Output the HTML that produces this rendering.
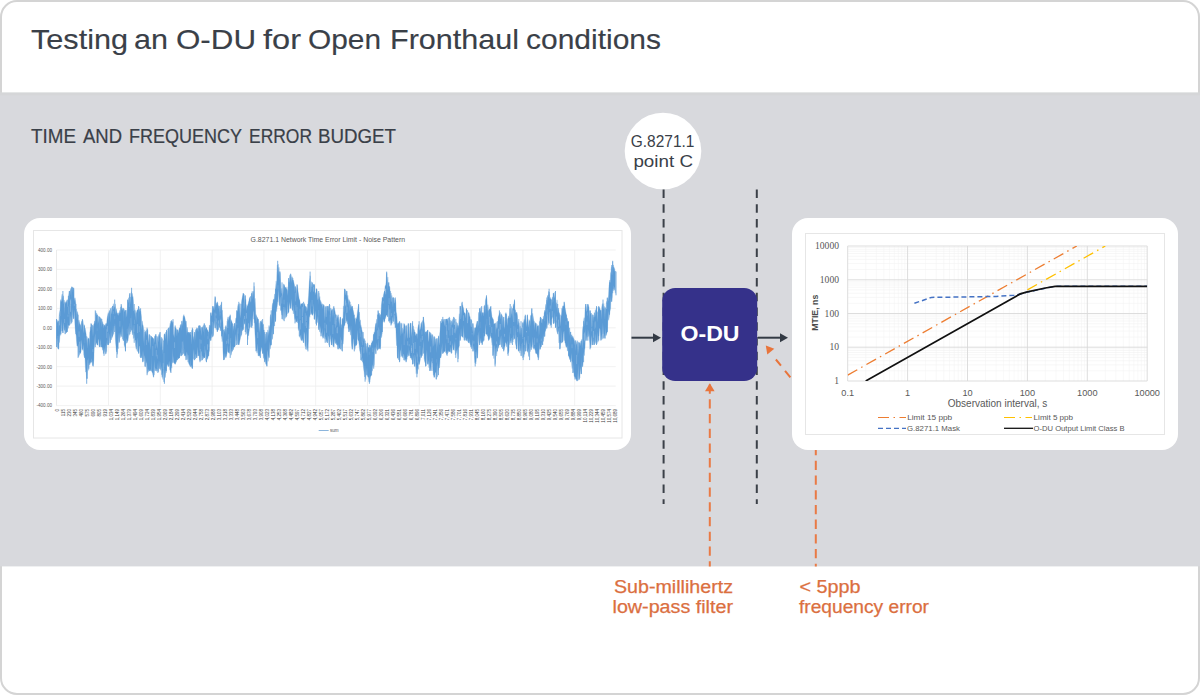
<!DOCTYPE html>
<html><head><meta charset="utf-8"><title>Testing an O-DU for Open Fronthaul conditions</title>
<style>
html,body{margin:0;padding:0;background:#fff;}
body{width:1200px;height:695px;overflow:hidden;position:relative;font-family:"Liberation Sans",sans-serif;}
svg{position:absolute;left:0;top:0;display:block;}
</style></head>
<body>
<svg width="1200" height="695" viewBox="0 0 1200 695" font-family="Liberation Sans, sans-serif">
  <!-- outer frame -->
  <rect x="1" y="1" width="1198" height="693" rx="16" ry="16" fill="#fff" stroke="#d4d4d4" stroke-width="2"/>
  <!-- gray band -->
  <rect x="0" y="92.6" width="1200" height="473.8" fill="#d8d9dd"/>
  <rect x="0" y="92.6" width="1200" height="2.6" fill="#d5d6d8"/>

  <!-- title -->
<text x="30.99" y="49.0" font-size="28.0" fill="#3a4048" stroke="#3a4048" stroke-width="0.15" textLength="97.01" lengthAdjust="spacingAndGlyphs">Testing</text>
<text x="134.00" y="49.0" font-size="28.0" fill="#3a4048" stroke="#3a4048" stroke-width="0.15" textLength="34.00" lengthAdjust="spacingAndGlyphs">an</text>
<text x="175.98" y="49.0" font-size="28.0" fill="#3a4048" stroke="#3a4048" stroke-width="0.15" textLength="80.05" lengthAdjust="spacingAndGlyphs">O-DU</text>
<text x="262.98" y="49.0" font-size="28.0" fill="#3a4048" stroke="#3a4048" stroke-width="0.15" textLength="38.02" lengthAdjust="spacingAndGlyphs">for</text>
<text x="307.98" y="49.0" font-size="28.0" fill="#3a4048" stroke="#3a4048" stroke-width="0.15" textLength="73.02" lengthAdjust="spacingAndGlyphs">Open</text>
<text x="389.97" y="49.0" font-size="28.0" fill="#3a4048" stroke="#3a4048" stroke-width="0.15" textLength="129.05" lengthAdjust="spacingAndGlyphs">Fronthaul</text>
<text x="525.99" y="49.0" font-size="28.0" fill="#3a4048" stroke="#3a4048" stroke-width="0.15" textLength="135.02" lengthAdjust="spacingAndGlyphs">conditions</text>
<text x="31.01" y="143.3" font-size="20.0" fill="#3a4048" stroke="#3a4048" stroke-width="0.2" textLength="45.00" lengthAdjust="spacingAndGlyphs">TIME</text>
<text x="82.94" y="143.3" font-size="20.0" fill="#3a4048" stroke="#3a4048" stroke-width="0.2" textLength="39.06" lengthAdjust="spacingAndGlyphs">AND</text>
<text x="128.99" y="143.3" font-size="20.0" fill="#3a4048" stroke="#3a4048" stroke-width="0.2" textLength="113.02" lengthAdjust="spacingAndGlyphs">FREQUENCY</text>
<text x="249.01" y="143.3" font-size="20.0" fill="#3a4048" stroke="#3a4048" stroke-width="0.2" textLength="62.99" lengthAdjust="spacingAndGlyphs">ERROR</text>
<text x="317.98" y="143.3" font-size="20.0" fill="#3a4048" stroke="#3a4048" stroke-width="0.2" textLength="78.04" lengthAdjust="spacingAndGlyphs">BUDGET</text>


  <!-- left panel -->
  <rect x="24" y="218" width="607" height="232" rx="16" ry="16" fill="#fff"/>
  <rect x="33.5" y="230.5" width="588.5" height="207.5" fill="#fff" stroke="#e6e6e6" stroke-width="1"/>
  <text x="327.8" y="241.6" font-size="6.6" fill="#595959" text-anchor="middle" textLength="154.5" lengthAdjust="spacingAndGlyphs">G.8271.1 Network Time Error Limit - Noise Pattern</text>
  <g stroke="#eeeeee" stroke-width="0.8">
<line x1="56.5" y1="250.0" x2="615.7" y2="250.0"/>
<line x1="56.5" y1="269.4" x2="615.7" y2="269.4"/>
<line x1="56.5" y1="288.9" x2="615.7" y2="288.9"/>
<line x1="56.5" y1="308.4" x2="615.7" y2="308.4"/>
<line x1="56.5" y1="327.8" x2="615.7" y2="327.8"/>
<line x1="56.5" y1="347.2" x2="615.7" y2="347.2"/>
<line x1="56.5" y1="366.7" x2="615.7" y2="366.7"/>
<line x1="56.5" y1="386.1" x2="615.7" y2="386.1"/>
<line x1="56.5" y1="405.6" x2="615.7" y2="405.6"/>
<line x1="108.5" y1="250" x2="108.5" y2="405.6"/>
<line x1="160.3" y1="250" x2="160.3" y2="405.6"/>
<line x1="212.1" y1="250" x2="212.1" y2="405.6"/>
<line x1="263.9" y1="250" x2="263.9" y2="405.6"/>
<line x1="315.7" y1="250" x2="315.7" y2="405.6"/>
<line x1="367.5" y1="250" x2="367.5" y2="405.6"/>
<line x1="419.3" y1="250" x2="419.3" y2="405.6"/>
<line x1="471.1" y1="250" x2="471.1" y2="405.6"/>
<line x1="522.9" y1="250" x2="522.9" y2="405.6"/>
<line x1="574.7" y1="250" x2="574.7" y2="405.6"/>
  </g>
  <line x1="56.5" y1="250" x2="56.5" y2="405.6" stroke="#e6e6e6" stroke-width="0.8"/>
  <g font-size="4.6" fill="#595959">
<text x="52" y="251.8" text-anchor="end">400.00</text>
<text x="52" y="271.2" text-anchor="end">300.00</text>
<text x="52" y="290.7" text-anchor="end">200.00</text>
<text x="52" y="310.2" text-anchor="end">100.00</text>
<text x="52" y="329.6" text-anchor="end">0.00</text>
<text x="52" y="349.1" text-anchor="end">-100.00</text>
<text x="52" y="368.5" text-anchor="end">-200.00</text>
<text x="52" y="387.9" text-anchor="end">-300.00</text>
<text x="52" y="407.4" text-anchor="end">-400.00</text>
  </g>
  <polygon points="56.6,319.2 57.0,321.2 57.4,322.7 57.8,320.4 58.2,320.8 58.6,331.3 59.0,317.6 59.4,313.6 59.8,311.2 60.2,309.1 60.6,302.3 61.0,300.9 61.4,302.0 61.8,296.0 62.2,294.1 62.6,301.4 63.0,296.9 63.4,295.7 63.8,304.6 64.2,300.0 64.6,314.0 65.0,302.8 65.4,304.0 65.8,302.8 66.2,301.3 66.6,303.3 67.0,300.1 67.4,306.7 67.8,307.2 68.2,295.9 68.6,296.1 69.0,293.0 69.4,291.1 69.8,301.6 70.2,290.7 70.6,289.5 71.0,288.1 71.4,288.5 71.8,298.7 72.2,287.2 72.6,287.2 73.0,287.5 73.4,288.2 73.8,289.7 74.2,301.6 74.6,298.9 75.0,297.8 75.4,300.2 75.8,303.3 76.2,319.7 76.6,309.0 77.0,314.9 77.4,311.5 77.8,313.5 78.2,326.9 78.6,321.1 79.0,319.9 79.4,321.9 79.8,323.5 80.2,325.5 80.6,324.4 81.0,330.9 81.4,323.3 81.8,320.8 82.2,325.0 82.6,319.8 83.0,320.9 83.4,325.2 83.8,333.6 84.2,324.6 84.6,333.6 85.0,328.0 85.4,329.9 85.8,331.9 86.2,334.4 86.6,344.0 87.0,339.1 87.4,348.7 87.8,337.6 88.2,338.3 88.6,338.5 89.0,339.2 89.4,346.8 89.8,332.4 90.2,330.4 90.6,326.8 91.0,330.7 91.4,323.8 91.8,324.2 92.2,325.8 92.6,325.2 93.0,336.5 93.4,331.3 93.8,324.0 94.2,323.4 94.6,321.2 95.0,320.7 95.4,323.7 95.8,311.4 96.2,315.9 96.6,313.0 97.0,314.7 97.4,321.2 97.8,324.8 98.2,321.4 98.6,315.9 99.0,316.9 99.4,316.7 99.8,330.5 100.2,317.5 100.6,318.1 101.0,318.9 101.4,318.7 101.8,327.4 102.2,323.6 102.6,321.5 103.0,324.3 103.4,323.9 103.8,328.2 104.2,325.5 104.6,324.9 105.0,324.5 105.4,324.6 105.8,327.2 106.2,323.4 106.6,324.6 107.0,319.6 107.4,317.0 107.8,315.4 108.2,313.9 108.6,323.1 109.0,311.2 109.4,310.3 109.8,312.2 110.2,322.5 110.6,319.6 111.0,312.9 111.4,307.3 111.8,314.4 112.2,311.0 112.6,306.1 113.0,306.3 113.4,303.7 113.8,309.8 114.2,306.6 114.6,307.6 115.0,307.9 115.4,303.9 115.8,314.5 116.2,308.6 116.6,310.8 117.0,313.8 117.4,314.9 117.8,313.0 118.2,314.4 118.6,315.9 119.0,312.8 119.4,314.6 119.8,310.3 120.2,313.6 120.6,306.8 121.0,312.2 121.4,305.4 121.8,307.6 122.2,310.4 122.6,308.7 123.0,307.8 123.4,322.0 123.8,308.7 124.2,309.6 124.6,312.3 125.0,309.9 125.4,310.4 125.8,318.6 126.2,316.0 126.6,309.9 127.0,316.7 127.4,309.1 127.8,299.8 128.2,303.1 128.6,297.7 129.0,303.5 129.4,295.6 129.8,293.4 130.2,304.6 130.6,297.0 131.0,297.3 131.4,291.7 131.8,298.2 132.2,293.3 132.6,297.5 133.0,296.6 133.4,301.1 133.8,311.2 134.2,310.2 134.6,314.6 135.0,309.4 135.4,320.5 135.8,310.5 136.2,323.2 136.6,312.7 137.0,310.6 137.4,309.7 137.8,310.0 138.2,308.6 138.6,319.5 139.0,306.7 139.4,312.1 139.8,309.0 140.2,311.1 140.6,311.0 141.0,313.3 141.4,317.0 141.8,329.8 142.2,320.8 142.6,323.9 143.0,326.1 143.4,328.9 143.8,343.4 144.2,329.7 144.6,346.2 145.0,334.4 145.4,331.2 145.8,331.6 146.2,329.7 146.6,336.0 147.0,331.3 147.4,329.0 147.8,330.1 148.2,343.3 148.6,340.2 149.0,334.8 149.4,335.4 149.8,341.2 150.2,349.8 150.6,335.5 151.0,336.0 151.4,337.0 151.8,338.8 152.2,337.1 152.6,337.5 153.0,338.1 153.4,339.3 153.8,345.1 154.2,341.2 154.6,336.5 155.0,335.7 155.4,336.4 155.8,334.4 156.2,347.3 156.6,335.8 157.0,347.0 157.4,349.1 157.8,337.3 158.2,342.6 158.6,335.8 159.0,334.2 159.4,336.5 159.8,332.6 160.2,337.2 160.6,342.5 161.0,347.8 161.4,337.5 161.8,337.2 162.2,351.2 162.6,349.8 163.0,354.4 163.4,340.4 163.8,341.8 164.2,335.7 164.6,333.9 165.0,333.5 165.4,339.8 165.8,332.0 166.2,336.9 166.6,332.1 167.0,331.1 167.4,345.4 167.8,328.7 168.2,330.3 168.6,327.9 169.0,341.9 169.4,327.9 169.8,326.3 170.2,323.3 170.6,326.8 171.0,322.6 171.4,320.7 171.8,320.3 172.2,321.1 172.6,323.5 173.0,321.8 173.4,334.1 173.8,335.6 174.2,337.7 174.6,333.0 175.0,326.9 175.4,328.4 175.8,327.8 176.2,328.7 176.6,329.7 177.0,336.4 177.4,330.0 177.8,329.4 178.2,330.4 178.6,333.6 179.0,329.3 179.4,328.5 179.8,330.7 180.2,325.6 180.6,324.4 181.0,326.3 181.4,324.3 181.8,331.0 182.2,320.7 182.6,326.3 183.0,317.5 183.4,316.0 183.8,318.5 184.2,316.1 184.6,317.1 185.0,318.3 185.4,320.4 185.8,321.4 186.2,325.4 186.6,335.8 187.0,327.1 187.4,328.5 187.8,333.1 188.2,332.0 188.6,332.8 189.0,333.5 189.4,332.9 189.8,332.0 190.2,334.6 190.6,335.3 191.0,332.3 191.4,344.7 191.8,329.8 192.2,333.3 192.6,329.6 193.0,329.0 193.4,340.8 193.8,336.5 194.2,342.7 194.6,333.4 195.0,341.1 195.4,330.5 195.8,329.6 196.2,328.9 196.6,329.0 197.0,331.9 197.4,328.2 197.8,328.5 198.2,332.3 198.6,325.9 199.0,329.8 199.4,325.5 199.8,325.8 200.2,326.6 200.6,331.2 201.0,327.6 201.4,327.3 201.8,335.8 202.2,327.9 202.6,326.8 203.0,326.5 203.4,325.2 203.8,332.6 204.2,323.6 204.6,338.3 205.0,324.9 205.4,326.0 205.8,329.5 206.2,327.6 206.6,328.8 207.0,328.8 207.4,330.3 207.8,330.3 208.2,331.3 208.6,340.0 209.0,329.0 209.4,325.3 209.8,325.2 210.2,326.2 210.6,314.6 211.0,312.6 211.4,315.5 211.8,316.1 212.2,311.4 212.6,307.2 213.0,306.0 213.4,310.1 213.8,307.2 214.2,310.5 214.6,305.3 215.0,297.9 215.4,297.2 215.8,308.0 216.2,303.8 216.6,302.8 217.0,305.5 217.4,302.8 217.8,303.4 218.2,305.9 218.6,305.7 219.0,309.0 219.4,314.1 219.8,311.9 220.2,305.3 220.6,304.7 221.0,314.1 221.4,303.1 221.8,312.5 222.2,309.8 222.6,316.4 223.0,322.2 223.4,332.8 223.8,338.9 224.2,329.0 224.6,331.4 225.0,330.9 225.4,326.6 225.8,334.2 226.2,326.8 226.6,336.0 227.0,321.2 227.4,321.7 227.8,318.5 228.2,321.0 228.6,320.1 229.0,318.3 229.4,316.2 229.8,317.6 230.2,315.8 230.6,329.2 231.0,319.6 231.4,321.2 231.8,321.3 232.2,322.9 232.6,334.2 233.0,323.8 233.4,331.0 233.8,325.8 234.2,333.7 234.6,323.0 235.0,330.4 235.4,324.0 235.8,318.3 236.2,318.5 236.6,316.8 237.0,310.6 237.4,311.9 237.8,306.2 238.2,304.4 238.6,308.7 239.0,304.0 239.4,315.9 239.8,303.1 240.2,312.1 240.6,318.4 241.0,314.5 241.4,303.4 241.8,300.1 242.2,298.1 242.6,296.2 243.0,294.8 243.4,293.4 243.8,293.9 244.2,294.2 244.6,308.0 245.0,295.8 245.4,299.8 245.8,299.4 246.2,306.6 246.6,310.7 247.0,304.7 247.4,308.4 247.8,304.9 248.2,303.6 248.6,301.8 249.0,300.5 249.4,298.9 249.8,299.8 250.2,296.9 250.6,296.1 251.0,303.3 251.4,294.0 251.8,293.2 252.2,291.2 252.6,299.5 253.0,291.3 253.4,291.4 253.8,297.6 254.2,286.2 254.6,304.9 255.0,298.3 255.4,306.3 255.8,315.2 256.2,323.3 256.6,316.0 257.0,318.3 257.4,317.3 257.8,318.5 258.2,319.9 258.6,331.6 259.0,323.0 259.4,328.2 259.8,332.7 260.2,321.6 260.6,336.5 261.0,322.1 261.4,320.3 261.8,322.2 262.2,322.7 262.6,324.3 263.0,326.1 263.4,323.9 263.8,330.1 264.2,329.9 264.6,335.3 265.0,344.8 265.4,333.9 265.8,339.7 266.2,332.1 266.6,343.0 267.0,333.0 267.4,340.9 267.8,329.8 268.2,331.8 268.6,335.9 269.0,331.0 269.4,326.7 269.8,334.0 270.2,317.6 270.6,314.8 271.0,314.6 271.4,323.1 271.8,312.6 272.2,306.0 272.6,303.6 273.0,302.9 273.4,301.3 273.8,299.1 274.2,299.2 274.6,293.9 275.0,301.7 275.4,290.7 275.8,285.5 276.2,280.9 276.6,288.6 277.0,269.9 277.4,265.0 277.8,275.9 278.2,264.1 278.6,275.6 279.0,267.3 279.4,280.6 279.8,271.5 280.2,273.4 280.6,281.8 281.0,292.9 281.4,293.6 281.8,288.3 282.2,295.2 282.6,298.8 283.0,286.1 283.4,283.8 283.8,294.3 284.2,285.6 284.6,285.9 285.0,288.1 285.4,287.0 285.8,287.8 286.2,288.8 286.6,290.3 287.0,286.8 287.4,295.8 287.8,289.5 288.2,292.1 288.6,281.8 289.0,283.2 289.4,279.4 289.8,275.4 290.2,274.6 290.6,280.7 291.0,274.6 291.4,282.7 291.8,276.7 292.2,276.8 292.6,280.2 293.0,280.1 293.4,280.4 293.8,282.3 294.2,284.1 294.6,285.9 295.0,292.5 295.4,286.3 295.8,287.3 296.2,289.1 296.6,299.0 297.0,284.7 297.4,286.5 297.8,289.4 298.2,292.3 298.6,294.9 299.0,297.7 299.4,300.0 299.8,300.9 300.2,303.3 300.6,306.8 301.0,303.9 301.4,304.0 301.8,303.6 302.2,303.5 302.6,302.9 303.0,304.4 303.4,314.1 303.8,309.0 304.2,303.6 304.6,303.8 305.0,305.3 305.4,307.0 305.8,307.0 306.2,312.0 306.6,307.4 307.0,307.5 307.4,311.2 307.8,308.0 308.2,300.6 308.6,295.5 309.0,287.7 309.4,281.8 309.8,279.2 310.2,275.7 310.6,291.4 311.0,292.4 311.4,281.6 311.8,287.0 312.2,287.2 312.6,282.8 313.0,286.4 313.4,284.0 313.8,284.7 314.2,284.4 314.6,286.2 315.0,295.6 315.4,292.5 315.8,294.2 316.2,288.5 316.6,290.1 317.0,289.4 317.4,293.4 317.8,300.2 318.2,298.7 318.6,305.1 319.0,292.8 319.4,300.3 319.8,296.5 320.2,301.0 320.6,300.5 321.0,304.4 321.4,304.8 321.8,303.4 322.2,303.8 322.6,309.1 323.0,305.7 323.4,305.4 323.8,304.8 324.2,305.5 324.6,315.4 325.0,321.0 325.4,307.0 325.8,317.0 326.2,317.1 326.6,306.3 327.0,306.5 327.4,311.6 327.8,306.1 328.2,307.3 328.6,305.7 329.0,311.8 329.4,310.9 329.8,305.1 330.2,317.9 330.6,307.9 331.0,308.5 331.4,309.7 331.8,311.6 332.2,309.4 332.6,308.9 333.0,318.1 333.4,307.3 333.8,317.4 334.2,307.7 334.6,309.6 335.0,310.9 335.4,313.7 335.8,314.6 336.2,315.5 336.6,323.1 337.0,317.5 337.4,318.0 337.8,315.6 338.2,323.0 338.6,317.2 339.0,321.9 339.4,327.5 339.8,319.8 340.2,318.0 340.6,317.5 341.0,328.7 341.4,324.5 341.8,325.9 342.2,319.0 342.6,318.1 343.0,321.7 343.4,305.9 343.8,308.6 344.2,297.0 344.6,289.1 345.0,290.1 345.4,289.7 345.8,294.6 346.2,296.0 346.6,290.8 347.0,292.3 347.4,299.9 347.8,295.3 348.2,299.0 348.6,305.9 349.0,302.5 349.4,300.6 349.8,311.2 350.2,307.7 350.6,305.6 351.0,304.4 351.4,308.0 351.8,306.5 352.2,306.3 352.6,307.9 353.0,309.5 353.4,311.2 353.8,312.9 354.2,318.6 354.6,318.4 355.0,319.2 355.4,324.7 355.8,317.7 356.2,319.2 356.6,318.2 357.0,316.3 357.4,312.6 357.8,309.8 358.2,307.0 358.6,305.2 359.0,314.9 359.4,312.0 359.8,322.2 360.2,319.8 360.6,324.0 361.0,327.8 361.4,327.4 361.8,329.9 362.2,330.9 362.6,338.8 363.0,332.2 363.4,341.3 363.8,338.3 364.2,340.2 364.6,338.6 365.0,352.6 365.4,343.0 365.8,344.1 366.2,344.3 366.6,354.0 367.0,345.8 367.4,357.3 367.8,343.5 368.2,348.3 368.6,347.3 369.0,346.8 369.4,349.3 369.8,347.4 370.2,344.8 370.6,348.0 371.0,345.4 371.4,344.6 371.8,343.3 372.2,340.5 372.6,341.5 373.0,341.7 373.4,335.6 373.8,334.3 374.2,331.9 374.6,333.0 375.0,327.9 375.4,326.0 375.8,324.6 376.2,322.9 376.6,319.2 377.0,330.0 377.4,314.6 377.8,315.8 378.2,310.9 378.6,315.1 379.0,313.0 379.4,313.6 379.8,315.6 380.2,317.9 380.6,315.0 381.0,313.5 381.4,305.6 381.8,302.1 382.2,299.1 382.6,297.3 383.0,299.0 383.4,295.4 383.8,293.6 384.2,292.0 384.6,293.3 385.0,286.8 385.4,285.4 385.8,285.1 386.2,280.4 386.6,272.5 387.0,274.0 387.4,290.8 387.8,277.1 388.2,284.8 388.6,282.6 389.0,287.1 389.4,286.2 389.8,287.2 390.2,291.9 390.6,291.1 391.0,302.5 391.4,301.0 391.8,295.4 392.2,297.5 392.6,298.1 393.0,307.5 393.4,297.5 393.8,297.8 394.2,298.3 394.6,303.6 395.0,302.6 395.4,299.4 395.8,303.2 396.2,311.9 396.6,313.8 397.0,317.6 397.4,326.3 397.8,324.5 398.2,323.1 398.6,322.6 399.0,324.3 399.4,321.7 399.8,322.5 400.2,336.4 400.6,324.0 401.0,322.8 401.4,325.1 401.8,334.6 402.2,333.1 402.6,328.1 403.0,334.8 403.4,330.3 403.8,328.5 404.2,324.9 404.6,324.1 405.0,325.5 405.4,329.0 405.8,340.2 406.2,326.0 406.6,335.9 407.0,324.8 407.4,337.3 407.8,338.7 408.2,323.5 408.6,323.9 409.0,338.2 409.4,337.1 409.8,328.0 410.2,323.4 410.6,323.2 411.0,323.1 411.4,337.0 411.8,331.4 412.2,323.1 412.6,329.8 413.0,337.0 413.4,325.8 413.8,329.2 414.2,329.6 414.6,331.8 415.0,332.3 415.4,334.7 415.8,336.0 416.2,333.5 416.6,336.9 417.0,333.7 417.4,339.4 417.8,328.9 418.2,326.6 418.6,324.4 419.0,325.5 419.4,331.5 419.8,329.7 420.2,329.4 420.6,328.0 421.0,325.7 421.4,323.5 421.8,321.7 422.2,330.7 422.6,320.4 423.0,322.5 423.4,317.0 423.8,320.6 424.2,322.7 424.6,326.1 425.0,334.5 425.4,331.7 425.8,336.7 426.2,331.4 426.6,331.8 427.0,331.6 427.4,330.6 427.8,330.1 428.2,335.8 428.6,342.0 429.0,340.1 429.4,331.6 429.8,334.0 430.2,333.1 430.6,336.0 431.0,333.2 431.4,340.1 431.8,335.2 432.2,348.4 432.6,334.8 433.0,336.4 433.4,337.6 433.8,346.4 434.2,344.3 434.6,336.9 435.0,337.7 435.4,344.9 435.8,339.3 436.2,338.7 436.6,353.0 437.0,348.7 437.4,338.2 437.8,340.0 438.2,350.7 438.6,335.7 439.0,345.7 439.4,341.8 439.8,333.6 440.2,329.8 440.6,326.9 441.0,323.2 441.4,323.0 441.8,319.0 442.2,321.1 442.6,322.3 443.0,319.0 443.4,322.5 443.8,319.4 444.2,326.2 444.6,324.3 445.0,319.1 445.4,325.9 445.8,319.4 446.2,319.1 446.6,319.1 447.0,319.6 447.4,321.2 447.8,319.0 448.2,318.1 448.6,324.8 449.0,318.0 449.4,327.5 449.8,318.2 450.2,323.7 450.6,320.2 451.0,329.4 451.4,325.1 451.8,325.1 452.2,319.7 452.6,325.1 453.0,318.7 453.4,323.2 453.8,326.1 454.2,317.5 454.6,317.9 455.0,325.5 455.4,334.2 455.8,331.9 456.2,321.8 456.6,331.5 457.0,322.8 457.4,324.0 457.8,328.5 458.2,325.4 458.6,328.5 459.0,317.7 459.4,313.7 459.8,323.7 460.2,306.3 460.6,306.1 461.0,307.7 461.4,318.8 461.8,302.8 462.2,307.0 462.6,304.7 463.0,306.6 463.4,307.9 463.8,309.9 464.2,314.1 464.6,312.9 465.0,313.1 465.4,314.0 465.8,318.4 466.2,309.1 466.6,309.2 467.0,321.9 467.4,310.1 467.8,310.8 468.2,321.9 468.6,312.6 469.0,313.5 469.4,315.4 469.8,316.4 470.2,317.7 470.6,326.1 471.0,319.6 471.4,320.2 471.8,321.1 472.2,332.6 472.6,323.5 473.0,323.9 473.4,330.5 473.8,336.7 474.2,327.8 474.6,335.3 475.0,327.7 475.4,327.8 475.8,329.1 476.2,324.9 476.6,323.8 477.0,322.3 477.4,321.1 477.8,328.2 478.2,324.3 478.6,313.7 479.0,312.0 479.4,315.1 479.8,318.4 480.2,310.8 480.6,313.6 481.0,307.1 481.4,314.3 481.8,316.8 482.2,313.6 482.6,312.8 483.0,312.6 483.4,315.9 483.8,315.8 484.2,307.6 484.6,304.9 485.0,315.0 485.4,300.7 485.8,298.7 486.2,296.7 486.6,297.6 487.0,299.9 487.4,312.2 487.8,304.6 488.2,307.5 488.6,321.5 489.0,309.7 489.4,309.1 489.8,308.9 490.2,307.3 490.6,306.8 491.0,310.4 491.4,313.1 491.8,315.5 492.2,318.8 492.6,317.5 493.0,319.2 493.4,320.6 493.8,324.3 494.2,323.9 494.6,323.7 495.0,323.4 495.4,335.3 495.8,323.1 496.2,322.4 496.6,329.7 497.0,327.8 497.4,329.0 497.8,322.9 498.2,317.6 498.6,316.1 499.0,315.1 499.4,313.8 499.8,312.8 500.2,312.3 500.6,319.6 501.0,313.6 501.4,314.6 501.8,327.3 502.2,315.6 502.6,317.8 503.0,327.9 503.4,320.9 503.8,317.2 504.2,321.2 504.6,329.0 505.0,326.4 505.4,313.7 505.8,314.1 506.2,313.8 506.6,314.7 507.0,322.6 507.4,326.1 507.8,318.3 508.2,318.1 508.6,315.8 509.0,318.0 509.4,317.5 509.8,308.6 510.2,308.6 510.6,318.1 511.0,317.2 511.4,306.4 511.8,313.2 512.2,315.7 512.6,319.8 513.0,307.0 513.4,304.2 513.8,304.4 514.2,301.8 514.6,301.1 515.0,311.4 515.4,309.6 515.8,312.6 516.2,314.3 516.6,312.1 517.0,313.5 517.4,316.0 517.8,325.4 518.2,321.3 518.6,325.6 519.0,322.7 519.4,326.8 519.8,334.8 520.2,325.9 520.6,330.6 521.0,335.5 521.4,328.0 521.8,330.6 522.2,322.4 522.6,322.8 523.0,336.2 523.4,322.7 523.8,321.3 524.2,319.3 524.6,321.9 525.0,316.0 525.4,323.2 525.8,315.2 526.2,321.5 526.6,327.2 527.0,320.2 527.4,316.0 527.8,319.8 528.2,327.4 528.6,324.2 529.0,319.6 529.4,320.5 529.8,332.2 530.2,322.1 530.6,315.5 531.0,316.0 531.4,314.2 531.8,308.7 532.2,322.2 532.6,313.3 533.0,315.5 533.4,318.3 533.8,320.8 534.2,330.3 534.6,325.5 535.0,322.3 535.4,323.5 535.8,323.1 536.2,328.3 536.6,332.6 537.0,324.3 537.4,326.5 537.8,326.0 538.2,325.8 538.6,330.6 539.0,336.8 539.4,321.4 539.8,321.8 540.2,318.3 540.6,317.1 541.0,320.5 541.4,317.9 541.8,322.4 542.2,323.8 542.6,319.7 543.0,319.9 543.4,315.9 543.8,319.4 544.2,312.9 544.6,312.2 545.0,312.2 545.4,308.9 545.8,304.3 546.2,309.2 546.6,299.9 547.0,303.4 547.4,297.0 547.8,295.2 548.2,297.6 548.6,291.3 549.0,296.0 549.4,291.9 549.8,298.4 550.2,299.3 550.6,297.4 551.0,299.4 551.4,299.6 551.8,310.6 552.2,298.5 552.6,296.8 553.0,298.9 553.4,293.4 553.8,292.8 554.2,298.6 554.6,296.1 555.0,291.9 555.4,299.8 555.8,305.1 556.2,302.7 556.6,308.8 557.0,299.8 557.4,307.9 557.8,313.4 558.2,308.0 558.6,308.5 559.0,312.8 559.4,312.7 559.8,314.5 560.2,326.5 560.6,321.5 561.0,315.3 561.4,316.6 561.8,313.6 562.2,309.3 562.6,306.5 563.0,305.7 563.4,306.3 563.8,306.3 564.2,302.4 564.6,304.4 565.0,307.4 565.4,309.3 565.8,311.8 566.2,314.1 566.6,316.5 567.0,319.1 567.4,318.2 567.8,321.0 568.2,323.0 568.6,321.8 569.0,336.6 569.4,328.1 569.8,327.8 570.2,343.1 570.6,331.8 571.0,338.1 571.4,335.2 571.8,334.6 572.2,336.0 572.6,337.7 573.0,337.6 573.4,337.8 573.8,339.5 574.2,339.5 574.6,345.6 575.0,340.8 575.4,340.6 575.8,351.0 576.2,342.1 576.6,345.2 577.0,343.7 577.4,357.6 577.8,341.4 578.2,353.9 578.6,342.2 579.0,342.6 579.4,347.3 579.8,342.4 580.2,343.1 580.6,346.3 581.0,341.1 581.4,348.1 581.8,339.2 582.2,348.5 582.6,330.2 583.0,326.6 583.4,327.3 583.8,319.9 584.2,317.6 584.6,326.4 585.0,310.7 585.4,306.8 585.8,304.0 586.2,306.8 586.6,311.6 587.0,311.1 587.4,305.7 587.8,304.2 588.2,304.9 588.6,306.2 589.0,307.4 589.4,321.3 589.8,310.8 590.2,310.7 590.6,313.4 591.0,313.8 591.4,313.1 591.8,327.4 592.2,326.3 592.6,314.6 593.0,322.0 593.4,314.9 593.8,317.6 594.2,316.8 594.6,317.8 595.0,312.1 595.4,309.6 595.8,316.9 596.2,308.6 596.6,307.6 597.0,313.6 597.4,311.5 597.8,321.9 598.2,307.0 598.6,310.1 599.0,306.7 599.4,307.5 599.8,308.5 600.2,309.4 600.6,311.1 601.0,309.9 601.4,319.7 601.8,306.9 602.2,304.6 602.6,303.5 603.0,308.5 603.4,308.8 603.8,303.5 604.2,310.5 604.6,306.4 605.0,319.9 605.4,307.2 605.8,315.4 606.2,304.2 606.6,301.7 607.0,300.8 607.4,298.0 607.8,304.0 608.2,299.4 608.6,294.9 609.0,286.0 609.4,284.3 609.8,280.0 610.2,283.0 610.6,273.5 611.0,271.3 611.4,267.2 611.8,274.6 612.2,275.0 612.6,261.7 613.0,271.3 613.4,264.9 613.8,267.3 614.2,268.2 614.6,269.7 615.0,272.0 615.4,270.9 615.4,293.3 615.0,290.0 614.6,290.2 614.2,287.5 613.8,285.5 613.4,289.8 613.0,291.0 612.6,288.6 612.2,297.4 611.8,300.6 611.4,301.6 611.0,294.7 610.6,308.0 610.2,310.3 609.8,312.5 609.4,315.5 609.0,318.7 608.6,320.3 608.2,310.8 607.8,320.4 607.4,330.0 607.0,333.0 606.6,333.7 606.2,335.4 605.8,335.5 605.4,326.8 605.0,333.6 604.6,338.4 604.2,335.2 603.8,338.4 603.4,325.0 603.0,333.9 602.6,322.4 602.2,338.8 601.8,339.7 601.4,334.6 601.0,339.7 600.6,333.8 600.2,329.5 599.8,328.3 599.4,328.8 599.0,335.8 598.6,336.6 598.2,341.2 597.8,342.4 597.4,331.8 597.0,344.0 596.6,341.8 596.2,339.4 595.8,343.6 595.4,340.7 595.0,333.2 594.6,343.8 594.2,339.8 593.8,341.5 593.4,345.0 593.0,335.6 592.6,344.8 592.2,344.8 591.8,338.5 591.4,335.1 591.0,347.2 590.6,347.9 590.2,345.3 589.8,341.4 589.4,337.5 589.0,333.1 588.6,336.4 588.2,329.8 587.8,337.2 587.4,328.2 587.0,340.6 586.6,334.7 586.2,340.6 585.8,328.6 585.4,336.3 585.0,348.0 584.6,349.9 584.2,355.7 583.8,354.0 583.4,352.2 583.0,365.3 582.6,366.9 582.2,366.6 581.8,357.2 581.4,372.6 581.0,373.9 580.6,366.4 580.2,372.1 579.8,378.0 579.4,375.3 579.0,379.6 578.6,363.2 578.2,380.4 577.8,372.1 577.4,380.5 577.0,380.6 576.6,380.4 576.2,378.9 575.8,379.1 575.4,377.2 575.0,377.6 574.6,376.3 574.2,376.4 573.8,372.2 573.4,372.4 573.0,362.5 572.6,360.5 572.2,368.6 571.8,365.1 571.4,353.0 571.0,361.0 570.6,359.8 570.2,358.3 569.8,359.7 569.4,358.2 569.0,356.9 568.6,355.9 568.2,340.9 567.8,350.3 567.4,351.2 567.0,344.8 566.6,347.4 566.2,346.4 565.8,345.5 565.4,343.2 565.0,343.1 564.6,337.9 564.2,330.9 563.8,331.7 563.4,334.4 563.0,341.7 562.6,341.9 562.2,341.8 561.8,329.7 561.4,343.2 561.0,341.4 560.6,343.2 560.2,348.1 559.8,348.9 559.4,338.3 559.0,343.0 558.6,332.0 558.2,331.2 557.8,322.7 557.4,332.8 557.0,332.0 556.6,329.5 556.2,319.5 555.8,327.4 555.4,327.4 555.0,312.3 554.6,323.3 554.2,320.0 553.8,324.1 553.4,323.3 553.0,316.2 552.6,316.5 552.2,318.2 551.8,319.3 551.4,325.1 551.0,323.7 550.6,325.0 550.2,325.6 549.8,312.6 549.4,311.7 549.0,323.5 548.6,319.8 548.2,325.1 547.8,313.6 547.4,316.1 547.0,327.4 546.6,328.9 546.2,323.1 545.8,330.0 545.4,331.0 545.0,332.1 544.6,336.9 544.2,331.9 543.8,338.8 543.4,341.6 543.0,333.6 542.6,344.9 542.2,338.9 541.8,344.6 541.4,346.8 541.0,347.1 540.6,347.4 540.2,347.0 539.8,349.5 539.4,342.3 539.0,356.4 538.6,358.4 538.2,350.4 537.8,357.5 537.4,355.2 537.0,354.3 536.6,353.2 536.2,353.6 535.8,352.9 535.4,350.8 535.0,349.8 534.6,348.0 534.2,348.1 533.8,342.0 533.4,348.5 533.0,347.6 532.6,336.4 532.2,344.5 531.8,346.5 531.4,349.4 531.0,349.9 530.6,341.2 530.2,351.8 529.8,343.8 529.4,342.4 529.0,356.8 528.6,355.5 528.2,348.1 527.8,352.4 527.4,344.9 527.0,343.2 526.6,339.7 526.2,351.1 525.8,340.3 525.4,351.2 525.0,340.6 524.6,354.1 524.2,354.5 523.8,357.3 523.4,352.7 523.0,346.3 522.6,357.9 522.2,342.2 521.8,344.6 521.4,356.2 521.0,345.2 520.6,350.9 520.2,347.4 519.8,353.1 519.4,339.8 519.0,350.8 518.6,350.8 518.2,350.6 517.8,337.2 517.4,336.9 517.0,348.8 516.6,348.8 516.2,346.4 515.8,344.8 515.4,342.8 515.0,324.9 514.6,338.4 514.2,338.7 513.8,339.8 513.4,334.6 513.0,342.1 512.6,339.8 512.2,336.8 511.8,338.6 511.4,343.3 511.0,339.1 510.6,341.1 510.2,340.2 509.8,344.8 509.4,331.4 509.0,350.1 508.6,352.5 508.2,352.4 507.8,354.2 507.4,340.5 507.0,342.9 506.6,346.9 506.2,344.1 505.8,342.4 505.4,341.3 505.0,346.4 504.6,346.5 504.2,349.6 503.8,350.5 503.4,348.1 503.0,337.4 502.6,349.0 502.2,347.9 501.8,336.2 501.4,335.6 501.0,345.3 500.6,336.1 500.2,344.4 499.8,344.8 499.4,339.3 499.0,345.7 498.6,346.9 498.2,348.4 497.8,341.3 497.4,351.0 497.0,351.5 496.6,356.1 496.2,347.2 495.8,349.1 495.4,362.2 495.0,364.6 494.6,346.8 494.2,345.1 493.8,358.6 493.4,344.3 493.0,355.3 492.6,337.6 492.2,345.3 491.8,342.1 491.4,337.6 491.0,338.1 490.6,335.7 490.2,332.1 489.8,338.2 489.4,339.1 489.0,339.9 488.6,339.1 488.2,338.9 487.8,335.1 487.4,336.3 487.0,333.4 486.6,334.5 486.2,334.1 485.8,333.9 485.4,323.5 485.0,335.5 484.6,335.6 484.2,336.3 483.8,340.6 483.4,340.3 483.0,342.1 482.6,340.7 482.2,344.1 481.8,342.7 481.4,342.1 481.0,337.8 480.6,340.1 480.2,341.3 479.8,343.6 479.4,330.7 479.0,331.5 478.6,339.0 478.2,343.9 477.8,352.8 477.4,357.2 477.0,358.5 476.6,349.6 476.2,361.0 475.8,364.0 475.4,361.5 475.0,362.8 474.6,358.2 474.2,350.7 473.8,345.5 473.4,349.6 473.0,351.3 472.6,346.4 472.2,339.4 471.8,349.0 471.4,348.2 471.0,344.8 470.6,345.3 470.2,343.8 469.8,340.1 469.4,343.3 469.0,337.9 468.6,342.6 468.2,342.3 467.8,337.9 467.4,341.5 467.0,339.0 466.6,338.6 466.2,340.6 465.8,336.8 465.4,340.3 465.0,337.6 464.6,331.7 464.2,339.9 463.8,337.3 463.4,325.0 463.0,337.6 462.6,337.0 462.2,336.4 461.8,336.3 461.4,335.7 461.0,328.0 460.6,337.6 460.2,340.4 459.8,333.1 459.4,346.2 459.0,346.6 458.6,348.6 458.2,359.0 457.8,354.2 457.4,348.2 457.0,350.4 456.6,350.4 456.2,353.4 455.8,340.7 455.4,354.9 455.0,349.3 454.6,340.9 454.2,350.4 453.8,349.8 453.4,348.9 453.0,350.3 452.6,343.1 452.2,347.0 451.8,352.9 451.4,346.8 451.0,352.6 450.6,346.7 450.2,352.0 449.8,352.0 449.4,351.2 449.0,351.0 448.6,350.5 448.2,352.6 447.8,350.4 447.4,354.1 447.0,352.7 446.6,354.7 446.2,351.9 445.8,352.7 445.4,342.4 445.0,350.9 444.6,351.8 444.2,351.4 443.8,352.5 443.4,353.0 443.0,350.3 442.6,353.8 442.2,342.7 441.8,349.4 441.4,354.6 441.0,357.0 440.6,357.8 440.2,355.2 439.8,363.9 439.4,367.9 439.0,367.2 438.6,368.7 438.2,370.4 437.8,361.9 437.4,377.2 437.0,375.2 436.6,364.5 436.2,379.0 435.8,372.2 435.4,372.3 435.0,373.4 434.6,376.6 434.2,377.4 433.8,375.6 433.4,374.9 433.0,369.4 432.6,361.1 432.2,363.2 431.8,361.7 431.4,361.0 431.0,370.6 430.6,366.5 430.2,370.7 429.8,370.7 429.4,355.8 429.0,367.8 428.6,359.7 428.2,364.3 427.8,356.9 427.4,363.4 427.0,349.7 426.6,356.8 426.2,365.9 425.8,364.8 425.4,363.0 425.0,362.5 424.6,360.9 424.2,358.5 423.8,343.4 423.4,340.3 423.0,346.6 422.6,353.9 422.2,355.9 421.8,356.4 421.4,356.4 421.0,354.1 420.6,356.1 420.2,360.1 419.8,362.2 419.4,362.8 419.0,364.6 418.6,360.5 418.2,369.5 417.8,366.9 417.4,374.1 417.0,372.8 416.6,364.9 416.2,373.7 415.8,366.9 415.4,360.8 415.0,355.1 414.6,366.4 414.2,364.8 413.8,354.9 413.4,363.9 413.0,356.8 412.6,364.1 412.2,352.0 411.8,360.1 411.4,357.8 411.0,358.4 410.6,356.1 410.2,356.0 409.8,355.9 409.4,353.5 409.0,349.6 408.6,355.4 408.2,346.4 407.8,357.0 407.4,353.1 407.0,359.3 406.6,358.1 406.2,361.6 405.8,359.0 405.4,359.3 405.0,360.7 404.6,354.6 404.2,360.3 403.8,354.4 403.4,353.7 403.0,358.1 402.6,357.1 402.2,356.2 401.8,343.5 401.4,353.5 401.0,357.1 400.6,349.6 400.2,351.6 399.8,361.1 399.4,361.6 399.0,346.6 398.6,360.0 398.2,357.6 397.8,358.5 397.4,356.1 397.0,346.3 396.6,345.3 396.2,337.4 395.8,326.0 395.4,327.7 395.0,314.4 394.6,315.8 394.2,324.3 393.8,311.6 393.4,321.9 393.0,316.4 392.6,319.1 392.2,323.2 391.8,322.6 391.4,324.5 391.0,323.6 390.6,321.0 390.2,319.3 389.8,323.1 389.4,318.8 389.0,321.5 388.6,304.9 388.2,304.9 387.8,317.0 387.4,316.8 387.0,315.6 386.6,315.0 386.2,315.5 385.8,317.1 385.4,318.6 385.0,319.0 384.6,320.9 384.2,322.4 383.8,321.9 383.4,318.8 383.0,321.5 382.6,323.0 382.2,333.3 381.8,336.2 381.4,337.7 381.0,331.7 380.6,345.9 380.2,348.1 379.8,349.0 379.4,348.0 379.0,347.5 378.6,348.9 378.2,338.0 377.8,349.7 377.4,350.6 377.0,349.2 376.6,348.2 376.2,342.4 375.8,354.2 375.4,347.7 375.0,346.9 374.6,351.2 374.2,364.4 373.8,366.4 373.4,357.6 373.0,364.2 372.6,367.3 372.2,371.2 371.8,369.0 371.4,375.3 371.0,376.2 370.6,376.2 370.2,379.1 369.8,382.2 369.4,373.7 369.0,382.1 368.6,378.3 368.2,377.1 367.8,376.7 367.4,375.6 367.0,367.4 366.6,375.2 366.2,373.5 365.8,379.6 365.4,376.3 365.0,365.1 364.6,377.0 364.2,372.9 363.8,369.9 363.4,366.3 363.0,362.7 362.6,361.1 362.2,357.4 361.8,360.4 361.4,360.7 361.0,349.3 360.6,353.9 360.2,352.1 359.8,351.0 359.4,347.5 359.0,343.9 358.6,340.7 358.2,340.2 357.8,339.2 357.4,329.9 357.0,343.7 356.6,342.6 356.2,345.5 355.8,346.2 355.4,344.3 355.0,349.4 354.6,347.6 354.2,346.2 353.8,343.3 353.4,338.5 353.0,340.1 352.6,349.3 352.2,347.8 351.8,346.1 351.4,341.1 351.0,324.7 350.6,335.2 350.2,331.6 349.8,325.6 349.4,330.2 349.0,331.8 348.6,328.2 348.2,328.4 347.8,323.5 347.4,324.2 347.0,319.6 346.6,320.0 346.2,321.9 345.8,323.1 345.4,311.6 345.0,324.3 344.6,324.6 344.2,326.3 343.8,329.1 343.4,339.9 343.0,344.2 342.6,341.8 342.2,346.5 341.8,350.8 341.4,346.7 341.0,338.5 340.6,336.5 340.2,349.2 339.8,347.7 339.4,347.9 339.0,348.2 338.6,343.8 338.2,349.2 337.8,348.3 337.4,344.5 337.0,345.2 336.6,344.6 336.2,343.5 335.8,339.1 335.4,343.7 335.0,343.1 334.6,338.3 334.2,341.9 333.8,345.0 333.4,346.5 333.0,346.1 332.6,341.9 332.2,336.6 331.8,345.0 331.4,344.9 331.0,342.7 330.6,339.5 330.2,334.8 329.8,339.1 329.4,328.8 329.0,345.4 328.6,340.5 328.2,336.5 327.8,334.6 327.4,342.9 327.0,339.1 326.6,340.8 326.2,342.2 325.8,336.9 325.4,336.8 325.0,339.1 324.6,336.0 324.2,328.4 323.8,337.9 323.4,335.9 323.0,334.7 322.6,337.2 322.2,327.8 321.8,336.2 321.4,331.2 321.0,333.4 320.6,326.0 320.2,328.3 319.8,332.1 319.4,328.5 319.0,323.6 318.6,328.6 318.2,314.2 317.8,323.1 317.4,316.1 317.0,322.0 316.6,320.4 316.2,324.1 315.8,323.3 315.4,310.6 315.0,315.7 314.6,319.7 314.2,318.7 313.8,303.5 313.4,313.1 313.0,314.2 312.6,315.4 312.2,314.7 311.8,312.2 311.4,314.3 311.0,313.6 310.6,301.2 310.2,313.0 309.8,317.3 309.4,315.0 309.0,329.0 308.6,322.5 308.2,341.3 307.8,347.3 307.4,348.7 307.0,350.0 306.6,347.6 306.2,330.7 305.8,343.4 305.4,346.7 305.0,345.4 304.6,334.8 304.2,332.6 303.8,331.6 303.4,342.6 303.0,340.5 302.6,338.7 302.2,341.1 301.8,332.9 301.4,339.9 301.0,339.7 300.6,337.8 300.2,334.8 299.8,337.4 299.4,321.6 299.0,327.7 298.6,330.6 298.2,328.2 297.8,317.6 297.4,323.0 297.0,321.3 296.6,321.7 296.2,322.0 295.8,322.2 295.4,317.9 295.0,319.6 294.6,317.4 294.2,313.6 293.8,304.5 293.4,314.0 293.0,311.3 292.6,309.8 292.2,309.8 291.8,298.8 291.4,304.7 291.0,308.5 290.6,304.1 290.2,308.4 289.8,305.1 289.4,301.9 289.0,311.2 288.6,312.4 288.2,311.5 287.8,313.9 287.4,301.3 287.0,315.5 286.6,314.7 286.2,315.6 285.8,317.8 285.4,306.6 285.0,318.7 284.6,311.3 284.2,307.0 283.8,306.9 283.4,320.3 283.0,308.2 282.6,319.3 282.2,315.2 281.8,315.0 281.4,312.0 281.0,309.3 280.6,310.6 280.2,296.4 279.8,299.6 279.4,305.2 279.0,304.2 278.6,288.7 278.2,295.7 277.8,300.6 277.4,304.4 277.0,307.8 276.6,311.7 276.2,306.3 275.8,318.7 275.4,322.0 275.0,312.6 274.6,325.9 274.2,326.3 273.8,326.7 273.4,334.1 273.0,321.9 272.6,338.1 272.2,339.5 271.8,327.0 271.4,343.5 271.0,345.5 270.6,344.8 270.2,349.2 269.8,341.2 269.4,347.4 269.0,356.8 268.6,354.3 268.2,361.4 267.8,350.0 267.4,352.2 267.0,365.9 266.6,365.2 266.2,364.0 265.8,364.2 265.4,361.3 265.0,358.3 264.6,361.6 264.2,356.5 263.8,358.4 263.4,356.0 263.0,352.3 262.6,353.4 262.2,348.4 261.8,347.3 261.4,349.0 261.0,351.3 260.6,350.9 260.2,352.2 259.8,356.3 259.4,355.2 259.0,356.3 258.6,355.5 258.2,353.2 257.8,343.4 257.4,350.6 257.0,353.2 256.6,347.7 256.2,351.0 255.8,346.7 255.4,338.6 255.0,334.3 254.6,323.4 254.2,322.7 253.8,312.4 253.4,310.3 253.0,315.1 252.6,320.4 252.2,325.9 251.8,323.5 251.4,327.6 251.0,317.5 250.6,327.1 250.2,319.7 249.8,326.8 249.4,329.6 249.0,332.3 248.6,335.8 248.2,334.6 247.8,339.6 247.4,333.9 247.0,327.3 246.6,333.8 246.2,325.9 245.8,334.8 245.4,317.0 245.0,324.5 244.6,322.8 244.2,324.1 243.8,316.9 243.4,328.5 243.0,328.8 242.6,330.8 242.2,330.0 241.8,334.0 241.4,335.0 241.0,326.1 240.6,336.7 240.2,339.3 239.8,340.8 239.4,342.7 239.0,344.4 238.6,344.8 238.2,343.7 237.8,328.6 237.4,343.0 237.0,344.9 236.6,330.8 236.2,340.5 235.8,333.9 235.4,345.5 235.0,345.6 234.6,347.0 234.2,345.3 233.8,348.1 233.4,349.4 233.0,350.1 232.6,349.3 232.2,345.4 231.8,351.0 231.4,353.3 231.0,355.3 230.6,342.7 230.2,339.1 229.8,350.8 229.4,353.5 229.0,352.5 228.6,353.0 228.2,351.8 227.8,352.2 227.4,344.7 227.0,353.2 226.6,354.9 226.2,356.6 225.8,355.6 225.4,357.0 225.0,352.5 224.6,359.2 224.2,359.6 223.8,360.0 223.4,355.4 223.0,351.9 222.6,333.5 222.2,341.7 221.8,337.7 221.4,331.5 221.0,327.0 220.6,331.0 220.2,330.4 219.8,325.9 219.4,326.8 219.0,321.7 218.6,329.3 218.2,330.1 217.8,330.1 217.4,331.2 217.0,330.0 216.6,323.4 216.2,329.8 215.8,316.6 215.4,328.3 215.0,327.7 214.6,323.9 214.2,319.3 213.8,325.4 213.4,334.5 213.0,336.1 212.6,337.0 212.2,329.1 211.8,337.8 211.4,333.0 211.0,340.2 210.6,340.5 210.2,338.3 209.8,338.7 209.4,350.2 209.0,352.6 208.6,355.7 208.2,356.4 207.8,358.3 207.4,359.4 207.0,356.9 206.6,348.7 206.2,361.6 205.8,360.1 205.4,349.0 205.0,357.0 204.6,357.4 204.2,358.0 203.8,357.2 203.4,358.8 203.0,356.3 202.6,355.6 202.2,360.0 201.8,360.4 201.4,351.0 201.0,352.1 200.6,360.9 200.2,350.2 199.8,360.7 199.4,357.9 199.0,351.7 198.6,355.7 198.2,355.5 197.8,356.3 197.4,346.8 197.0,352.8 196.6,358.0 196.2,357.2 195.8,353.4 195.4,359.0 195.0,359.0 194.6,348.8 194.2,360.2 193.8,349.1 193.4,359.3 193.0,356.9 192.6,366.8 192.2,368.4 191.8,367.6 191.4,364.8 191.0,367.2 190.6,366.0 190.2,359.1 189.8,365.6 189.4,364.7 189.0,363.9 188.6,363.1 188.2,355.3 187.8,354.1 187.4,359.8 187.0,351.7 186.6,352.9 186.2,359.7 185.8,356.3 185.4,355.6 185.0,355.8 184.6,356.0 184.2,354.7 183.8,339.6 183.4,353.7 183.0,349.0 182.6,354.2 182.2,355.0 181.8,347.0 181.4,355.5 181.0,356.2 180.6,355.7 180.2,352.2 179.8,356.1 179.4,358.0 179.0,358.0 178.6,358.7 178.2,359.1 177.8,356.9 177.4,359.6 177.0,359.6 176.6,360.9 176.2,362.3 175.8,362.6 175.4,363.7 175.0,362.4 174.6,363.4 174.2,363.4 173.8,363.0 173.4,355.3 173.0,362.3 172.6,363.3 172.2,348.6 171.8,368.1 171.4,365.0 171.0,369.3 170.6,372.1 170.2,370.6 169.8,369.8 169.4,360.5 169.0,365.7 168.6,361.8 168.2,366.8 167.8,365.1 167.4,363.9 167.0,365.9 166.6,363.0 166.2,372.9 165.8,370.1 165.4,377.6 165.0,373.2 164.6,367.6 164.2,382.0 163.8,381.7 163.4,362.0 163.0,379.6 162.6,376.3 162.2,372.6 161.8,375.2 161.4,369.2 161.0,366.1 160.6,370.4 160.2,361.4 159.8,369.1 159.4,367.5 159.0,360.3 158.6,371.5 158.2,372.0 157.8,362.8 157.4,371.1 157.0,368.0 156.6,371.4 156.2,369.2 155.8,368.3 155.4,368.6 155.0,370.8 154.6,359.5 154.2,375.1 153.8,363.8 153.4,376.7 153.0,375.5 152.6,373.2 152.2,372.4 151.8,371.9 151.4,356.0 151.0,369.0 150.6,370.8 150.2,370.8 149.8,369.4 149.4,370.5 149.0,371.3 148.6,368.7 148.2,372.2 147.8,364.2 147.4,373.5 147.0,370.1 146.6,361.0 146.2,363.2 145.8,356.9 145.4,366.8 145.0,366.5 144.6,354.9 144.2,356.4 143.8,361.2 143.4,349.9 143.0,361.8 142.6,360.6 142.2,350.0 141.8,358.0 141.4,355.7 141.0,357.9 140.6,347.5 140.2,356.9 139.8,345.9 139.4,346.4 139.0,353.3 138.6,350.1 138.2,351.9 137.8,337.2 137.4,351.4 137.0,350.5 136.6,341.7 136.2,347.6 135.8,346.0 135.4,339.8 135.0,340.6 134.6,332.0 134.2,337.8 133.8,326.1 133.4,338.6 133.0,331.7 132.6,334.9 132.2,332.7 131.8,314.1 131.4,330.3 131.0,331.3 130.6,332.2 130.2,327.9 129.8,322.5 129.4,335.3 129.0,325.3 128.6,333.7 128.2,337.9 127.8,340.3 127.4,342.0 127.0,342.9 126.6,343.3 126.2,339.7 125.8,335.9 125.4,350.7 125.0,347.4 124.6,346.3 124.2,344.7 123.8,328.0 123.4,340.7 123.0,339.1 122.6,339.1 122.2,325.0 121.8,337.2 121.4,326.6 121.0,334.7 120.6,331.7 120.2,337.7 119.8,332.6 119.4,341.8 119.0,340.9 118.6,332.6 118.2,348.7 117.8,347.3 117.4,354.4 117.0,350.9 116.6,351.9 116.2,349.2 115.8,344.6 115.4,339.2 115.0,323.3 114.6,326.2 114.2,325.2 113.8,333.3 113.4,334.6 113.0,325.2 112.6,335.9 112.2,337.5 111.8,338.0 111.4,339.9 111.0,329.4 110.6,338.3 110.2,340.4 109.8,343.4 109.4,333.4 109.0,341.0 108.6,344.6 108.2,344.8 107.8,343.8 107.4,345.1 107.0,339.3 106.6,351.7 106.2,342.0 105.8,346.7 105.4,354.3 105.0,352.4 104.6,347.3 104.2,351.5 103.8,353.5 103.4,353.5 103.0,346.5 102.6,350.3 102.2,347.6 101.8,346.9 101.4,347.0 101.0,343.5 100.6,347.1 100.2,339.0 99.8,344.6 99.4,346.8 99.0,346.1 98.6,340.3 98.2,338.8 97.8,345.3 97.4,345.0 97.0,344.4 96.6,342.6 96.2,343.6 95.8,344.8 95.4,333.4 95.0,335.6 94.6,343.9 94.2,348.7 93.8,360.0 93.4,363.4 93.0,365.8 92.6,365.4 92.2,362.0 91.8,358.2 91.4,362.4 91.0,361.5 90.6,363.4 90.2,361.3 89.8,364.9 89.4,364.2 89.0,362.0 88.6,370.4 88.2,357.8 87.8,360.7 87.4,378.8 87.0,377.5 86.6,378.8 86.2,370.6 85.8,372.2 85.4,367.3 85.0,357.8 84.6,352.1 84.2,356.6 83.8,354.4 83.4,344.2 83.0,350.6 82.6,348.6 82.2,349.6 81.8,339.6 81.4,345.1 81.0,352.0 80.6,352.4 80.2,353.3 79.8,351.0 79.4,355.1 79.0,355.5 78.6,356.8 78.2,343.5 77.8,346.5 77.4,345.6 77.0,346.1 76.6,341.8 76.2,335.9 75.8,332.7 75.4,330.0 75.0,325.9 74.6,316.9 74.2,309.6 73.8,317.7 73.4,318.4 73.0,316.3 72.6,307.8 72.2,322.1 71.8,308.4 71.4,321.5 71.0,313.5 70.6,324.4 70.2,320.4 69.8,311.0 69.4,324.2 69.0,325.5 68.6,324.7 68.2,328.5 67.8,322.3 67.4,329.5 67.0,331.7 66.6,332.4 66.2,333.0 65.8,327.0 65.4,333.7 65.0,331.3 64.6,330.0 64.2,329.7 63.8,322.2 63.4,326.5 63.0,333.0 62.6,330.2 62.2,331.3 61.8,331.0 61.4,318.8 61.0,333.0 60.6,335.4 60.2,330.4 59.8,337.0 59.4,342.6 59.0,342.1 58.6,348.7 58.2,348.8 57.8,348.4 57.4,346.6 57.0,337.5 56.6,338.5" fill="#5b9bd5" stroke="#5b9bd5" stroke-width="0.3"/>
  <path d="M56.6,320.9V326.1M58.2,335.9V342.9M59.4,316.1V325.4M60.2,310.6V316.1M64.6,319.0V323.0M67.8,314.7V316.8M69.0,306.3V314.3M69.8,304.5V306.0M70.6,300.3V311.8M71.0,298.8V304.0M74.2,304.1V305.8M79.0,331.5V336.8M79.4,341.8V351.2M80.2,341.3V346.5M84.6,337.7V342.9M93.0,349.0V352.1M97.4,328.3V330.9M106.6,329.3V337.9M107.4,325.9V331.8M108.2,332.7V342.2M113.0,311.2V314.1M114.6,316.2V319.2M119.8,321.1V326.6M127.4,328.7V333.8M129.4,297.9V307.2M131.0,318.2V326.7M134.2,325.2V331.9M134.6,319.7V324.1M137.8,324.2V333.0M139.0,326.2V332.0M146.6,339.8V344.9M153.0,346.1V355.9M155.4,344.2V348.4M156.2,350.0V356.4M157.4,354.8V358.6M163.0,363.2V368.9M164.2,353.0V366.6M174.6,342.3V348.0M182.2,341.6V352.1M199.8,339.1V350.5M200.6,349.0V355.4M201.0,339.9V343.5M204.6,346.3V352.8M207.4,344.3V349.8M208.2,336.2V339.2M209.0,344.3V347.1M210.6,321.5V324.9M212.6,321.8V331.7M215.0,312.6V319.6M215.8,313.6V315.6M216.2,318.4V321.8M217.0,321.4V327.8M218.6,320.4V323.6M219.8,313.0V315.6M220.2,320.2V326.6M221.0,318.7V322.7M226.6,340.8V343.9M227.8,320.2V328.0M228.2,339.0V343.0M228.6,334.3V344.2M230.6,338.1V341.5M236.6,322.9V324.8M238.2,327.9V333.7M243.8,302.6V308.4M244.6,315.9V319.2M246.2,313.0V318.6M248.6,323.3V328.9M250.6,297.8V301.6M257.8,332.2V338.2M277.8,285.3V288.8M281.8,295.7V303.6M284.2,299.7V304.3M295.4,292.7V301.4M295.8,305.0V310.8M297.0,306.8V316.0M299.8,308.9V319.3M300.2,320.2V329.5M302.2,306.8V316.1M302.6,316.8V323.2M305.4,313.1V326.1M306.2,315.5V321.0M306.6,322.2V328.1M312.2,300.0V306.5M313.4,286.6V291.6M318.6,310.1V315.5M325.0,322.8V328.5M326.6,324.6V332.8M329.8,314.9V321.6M333.0,325.1V334.1M335.0,314.1V324.0M335.4,317.7V327.5M336.2,321.0V325.5M337.0,328.1V333.1M337.4,326.9V333.4M341.8,340.2V343.0M344.2,301.6V311.6M345.0,298.9V306.4M345.4,300.5V305.3M346.6,302.8V313.0M347.0,306.9V312.6M360.2,328.4V333.3M360.6,332.2V336.9M361.4,347.0V357.5M362.2,333.5V342.4M362.6,341.7V345.1M363.8,347.2V353.3M369.4,351.8V354.8M373.0,347.7V352.2M377.4,330.4V339.4M378.6,327.6V339.0M379.0,329.5V336.1M383.0,301.1V303.5M385.4,288.6V292.3M385.8,289.0V294.3M389.0,298.2V304.2M389.8,309.4V318.5M391.4,313.1V316.1M394.6,311.5V314.2M404.2,333.5V345.1M407.8,341.2V345.4M409.0,344.1V346.3M411.4,348.0V352.9M411.8,345.4V351.2M412.6,334.4V343.7M413.4,343.0V353.2M414.6,354.9V359.6M415.0,342.0V348.9M417.0,352.5V356.7M417.4,354.3V362.7M419.8,345.9V356.9M421.0,338.4V341.8M421.8,330.4V334.7M422.2,335.8V340.1M430.6,346.5V352.3M432.2,358.2V362.2M436.6,359.3V362.6M445.8,322.5V326.7M446.6,325.1V334.9M447.0,331.2V339.3M448.2,337.9V342.9M449.0,320.0V330.3M449.8,325.5V335.6M450.2,341.3V344.9M452.2,327.5V335.1M454.2,328.8V332.8M454.6,322.5V325.0M455.8,337.9V339.7M460.6,309.6V319.0M463.4,315.3V320.9M467.4,312.2V323.2M471.0,321.3V326.6M471.8,322.9V327.0M472.2,333.3V334.4M473.0,327.4V330.3M473.8,340.8V343.7M475.8,352.1V355.8M477.4,335.4V343.3M479.8,321.8V328.0M483.8,333.0V339.6M486.6,318.8V325.7M489.4,316.8V324.9M490.2,323.4V327.1M491.8,327.0V332.9M496.6,341.4V344.2M498.6,328.7V336.7M499.4,324.2V331.2M500.2,324.0V329.7M504.6,333.9V336.6M510.6,328.1V333.8M513.8,310.4V322.0M514.2,325.9V337.7M514.6,315.6V322.1M516.2,335.4V344.8M517.8,328.9V332.2M522.6,326.9V337.2M523.0,337.7V338.9M524.6,337.1V345.1M526.6,331.0V332.3M527.8,335.9V344.1M534.6,337.6V345.1M537.0,338.5V342.5M541.0,338.6V341.3M544.6,316.2V321.2M547.0,309.2V316.4M550.2,305.5V308.7M552.2,311.1V316.0M553.4,296.3V301.6M556.6,316.6V320.6M558.6,319.7V326.7M559.8,328.2V340.1M566.2,320.7V324.8M572.2,344.4V348.2M576.6,354.9V364.1M583.8,334.0V342.6M584.6,332.5V340.6M587.0,321.6V325.1M587.4,312.4V315.6M591.8,328.2V331.3M593.4,330.9V337.7M594.6,322.5V329.2M595.0,321.4V327.6M606.6,303.9V308.9" stroke="#b5d3ef" stroke-width="0.45" fill="none"/>
  <path d="M56.5,319.1V347.1M58.6,321.2V349.3M60.8,299.6V334.2M62.9,291.0V333.1M65.1,301.8V334.2M67.3,299.6V332.0M69.4,291.0V325.5M71.6,286.7V323.4M73.7,287.8V319.1M75.9,304.0V334.2M78.1,314.7V357.9M80.2,325.5V353.6M82.4,319.1V349.3M84.5,325.5V357.9M86.7,336.3V383.8M88.8,338.5V368.7M91.0,323.4V362.2M93.2,325.5V366.5M95.3,310.4V347.1M97.5,314.7V345.0M99.6,316.9V347.1M101.8,319.1V347.1M104.0,325.5V355.8M106.1,323.4V353.6M108.3,312.6V345.0M110.4,308.3V342.8M112.6,306.1V336.3M114.7,299.6V332.0M116.9,312.6V357.9M119.1,312.6V342.8M121.2,304.0V336.3M123.4,308.3V340.6M125.5,310.4V351.4M127.7,299.6V340.6M129.9,293.2V334.2M131.6,287.8V329.9M134.2,304.0V342.8M136.3,312.6V349.3M138.5,306.1V353.6M140.6,308.3V357.9M142.8,325.5V362.2M145.0,332.0V366.5M147.1,327.7V375.2M149.3,334.2V370.9M151.4,336.3V370.9M153.6,338.5V377.3M155.8,334.2V370.9M157.9,336.3V373.0M160.1,332.0V368.7M162.2,338.5V377.3M164.4,334.2V383.8M166.5,329.9V370.9M168.7,327.7V366.5M170.9,321.2V373.0M173.0,319.1V362.2M175.2,325.5V364.4M177.3,329.9V360.1M179.5,327.7V357.9M181.7,321.2V355.8M183.8,314.7V353.6M186.0,321.2V360.1M188.1,332.0V362.2M190.3,332.0V366.5M192.4,327.7V368.7M194.6,332.0V360.1M196.8,327.7V357.9M198.9,325.5V355.8M200.0,325.5V362.2M202.2,327.7V360.1M204.3,323.4V357.9M206.5,327.7V362.2M208.6,332.0V355.8M210.8,312.6V340.6M212.9,306.1V336.3M215.1,296.4V327.7M217.3,301.8V332.0M219.4,306.1V327.7M221.6,301.8V336.3M223.7,329.9V360.1M225.9,325.5V357.9M228.1,316.9V351.4M230.2,314.7V357.9M232.4,323.4V351.4M234.5,323.4V347.1M236.7,310.4V345.0M238.8,301.8V345.0M241.0,304.0V336.3M243.2,293.2V329.9M245.3,295.3V332.0M247.5,306.1V345.0M249.6,297.5V327.7M251.8,293.2V327.7M254.0,282.4V319.1M256.1,314.7V351.4M258.3,319.1V355.8M260.4,321.2V357.9M262.6,319.1V353.6M264.7,332.0V362.2M266.9,332.0V366.5M269.1,325.5V357.9M271.2,310.4V345.0M273.4,299.6V334.2M275.5,288.8V321.2M277.7,260.8V301.8M279.9,271.6V306.1M282.0,282.4V319.1M284.2,284.5V321.2M286.3,288.8V316.9M288.5,278.1V312.6M290.6,273.7V308.3M292.8,278.1V310.4M295.0,286.7V323.4M297.1,284.5V321.2M299.3,299.6V336.3M301.4,304.0V340.6M303.6,301.8V342.8M305.8,306.1V349.3M307.9,304.0V351.4M310.1,271.6V314.7M312.2,282.4V314.7M314.4,284.5V319.1M316.5,288.8V325.5M318.7,291.0V329.9M320.9,301.8V336.3M323.0,304.0V338.5M325.2,306.1V342.8M327.3,306.1V342.8M329.5,304.0V347.1M331.7,310.4V345.0M333.8,306.1V347.1M336.0,314.7V342.8M338.1,314.7V349.3M340.3,316.9V349.3M342.4,319.1V351.4M344.6,288.8V325.5M346.8,291.0V321.2M348.9,299.6V332.0M350.0,301.8V329.9M352.2,306.1V349.3M354.3,314.7V351.4M356.5,319.1V345.0M358.6,304.0V340.6M360.8,325.5V360.1M362.9,332.0V362.2M365.1,340.6V381.7M367.3,342.8V375.2M369.4,345.0V383.8M371.6,342.8V375.2M373.7,334.2V368.7M375.9,323.4V353.6M378.1,310.4V349.3M380.2,314.7V349.3M382.4,297.5V332.0M384.5,291.0V321.2M386.7,271.6V314.7M388.8,282.4V321.2M391.0,293.2V325.5M393.2,297.5V321.2M395.3,297.5V327.7M397.5,323.4V357.9M399.6,321.2V362.2M401.8,323.4V355.8M404.0,323.4V360.1M406.1,325.5V362.2M408.3,323.4V355.8M410.4,323.4V357.9M412.6,321.2V364.4M414.7,332.0V366.5M416.9,334.2V377.3M419.1,321.2V364.4M421.2,323.4V357.9M423.4,316.9V353.6M425.5,332.0V366.5M427.7,329.9V364.4M429.9,332.0V370.9M432.0,334.2V370.9M434.2,336.3V377.3M436.3,338.5V379.5M438.5,336.3V375.2M440.6,321.2V357.9M442.8,316.9V353.6M445.0,319.1V351.4M447.1,319.1V355.8M449.3,316.9V351.4M451.4,321.2V353.6M453.6,316.9V349.3M455.8,319.1V357.9M457.9,325.5V362.2M460.1,306.1V340.6M462.2,301.8V336.3M464.4,312.6V340.6M466.5,308.3V340.6M468.7,312.6V342.8M470.9,319.1V347.1M473.0,323.4V351.4M475.2,327.7V366.5M477.3,321.2V357.9M479.5,308.3V345.0M480.0,308.3V342.8M481.7,306.1V342.8M482.2,312.6V345.0M483.8,312.6V340.6M484.3,306.1V336.3M486.5,295.3V334.2M488.6,310.4V340.6M490.8,306.1V336.3M492.9,319.1V355.8M495.1,323.4V366.5M497.3,321.2V351.4M499.4,310.4V345.0M501.6,314.7V347.1M503.7,316.9V351.4M505.9,312.6V342.8M508.1,319.1V355.8M510.2,304.0V342.8M512.4,308.3V345.0M514.5,299.6V338.5M516.7,312.6V349.3M518.8,319.1V351.4M521.0,321.2V355.8M523.2,323.4V360.1M525.3,314.7V351.4M527.5,314.7V351.4M529.6,321.2V360.1M531.8,308.3V347.1M534.0,321.2V349.3M536.1,323.4V353.6M538.3,325.5V360.1M540.4,316.9V349.3M542.6,319.1V345.0M544.7,310.4V336.3M546.9,297.5V327.7M549.1,288.8V323.4M551.2,299.6V327.7M553.4,293.2V323.4M555.5,291.0V327.7M557.7,304.0V334.2M559.9,314.7V349.3M562.0,308.3V342.8M564.2,301.8V340.6M566.3,314.7V347.1M568.5,321.2V355.8M570.6,332.0V362.2M572.8,336.3V373.0M575.0,340.6V379.5M577.1,340.6V381.2M579.3,342.8V379.5M581.4,340.6V374.1M583.6,321.2V362.2M585.8,304.0V340.6M587.9,304.0V340.6M590.1,310.4V349.3M592.2,314.7V345.0M594.4,312.6V345.0M596.5,306.1V345.0M598.7,306.1V340.6M600.9,310.4V340.6M603.0,299.6V338.5M605.2,308.3V338.5M607.3,297.5V332.0M609.5,282.4V314.7M611.7,265.1V301.8M612.7,260.8V293.2M613.8,267.3V288.8M616.0,271.6V295.3" stroke="#5b9bd5" stroke-width="0.8" fill="none"/>
  <g font-size="4.5" fill="#3a3a3a">
<text transform="translate(58.9,409) rotate(-90)" text-anchor="end">0</text>
<text transform="translate(64.9,409) rotate(-90)" text-anchor="end">115</text>
<text transform="translate(70.9,409) rotate(-90)" text-anchor="end">230</text>
<text transform="translate(76.9,409) rotate(-90)" text-anchor="end">345</text>
<text transform="translate(82.9,409) rotate(-90)" text-anchor="end">460</text>
<text transform="translate(88.9,409) rotate(-90)" text-anchor="end">575</text>
<text transform="translate(94.9,409) rotate(-90)" text-anchor="end">690</text>
<text transform="translate(100.9,409) rotate(-90)" text-anchor="end">805</text>
<text transform="translate(106.9,409) rotate(-90)" text-anchor="end">919</text>
<text transform="translate(112.9,409) rotate(-90)" text-anchor="end">1,034</text>
<text transform="translate(118.9,409) rotate(-90)" text-anchor="end">1,149</text>
<text transform="translate(124.9,409) rotate(-90)" text-anchor="end">1,264</text>
<text transform="translate(130.9,409) rotate(-90)" text-anchor="end">1,379</text>
<text transform="translate(136.9,409) rotate(-90)" text-anchor="end">1,494</text>
<text transform="translate(142.9,409) rotate(-90)" text-anchor="end">1,609</text>
<text transform="translate(148.9,409) rotate(-90)" text-anchor="end">1,724</text>
<text transform="translate(154.9,409) rotate(-90)" text-anchor="end">1,839</text>
<text transform="translate(160.9,409) rotate(-90)" text-anchor="end">1,954</text>
<text transform="translate(166.9,409) rotate(-90)" text-anchor="end">2,069</text>
<text transform="translate(172.9,409) rotate(-90)" text-anchor="end">2,184</text>
<text transform="translate(178.9,409) rotate(-90)" text-anchor="end">2,299</text>
<text transform="translate(184.9,409) rotate(-90)" text-anchor="end">2,414</text>
<text transform="translate(190.9,409) rotate(-90)" text-anchor="end">2,529</text>
<text transform="translate(196.9,409) rotate(-90)" text-anchor="end">2,644</text>
<text transform="translate(202.9,409) rotate(-90)" text-anchor="end">2,758</text>
<text transform="translate(208.9,409) rotate(-90)" text-anchor="end">2,873</text>
<text transform="translate(214.9,409) rotate(-90)" text-anchor="end">2,988</text>
<text transform="translate(220.9,409) rotate(-90)" text-anchor="end">3,103</text>
<text transform="translate(226.9,409) rotate(-90)" text-anchor="end">3,218</text>
<text transform="translate(232.9,409) rotate(-90)" text-anchor="end">3,333</text>
<text transform="translate(238.9,409) rotate(-90)" text-anchor="end">3,448</text>
<text transform="translate(244.9,409) rotate(-90)" text-anchor="end">3,563</text>
<text transform="translate(250.9,409) rotate(-90)" text-anchor="end">3,678</text>
<text transform="translate(256.9,409) rotate(-90)" text-anchor="end">3,793</text>
<text transform="translate(262.9,409) rotate(-90)" text-anchor="end">3,908</text>
<text transform="translate(268.9,409) rotate(-90)" text-anchor="end">4,023</text>
<text transform="translate(274.9,409) rotate(-90)" text-anchor="end">4,138</text>
<text transform="translate(280.9,409) rotate(-90)" text-anchor="end">4,253</text>
<text transform="translate(286.9,409) rotate(-90)" text-anchor="end">4,368</text>
<text transform="translate(292.9,409) rotate(-90)" text-anchor="end">4,482</text>
<text transform="translate(298.9,409) rotate(-90)" text-anchor="end">4,597</text>
<text transform="translate(304.9,409) rotate(-90)" text-anchor="end">4,712</text>
<text transform="translate(310.9,409) rotate(-90)" text-anchor="end">4,827</text>
<text transform="translate(316.9,409) rotate(-90)" text-anchor="end">4,942</text>
<text transform="translate(322.9,409) rotate(-90)" text-anchor="end">5,057</text>
<text transform="translate(328.9,409) rotate(-90)" text-anchor="end">5,172</text>
<text transform="translate(334.9,409) rotate(-90)" text-anchor="end">5,287</text>
<text transform="translate(340.9,409) rotate(-90)" text-anchor="end">5,402</text>
<text transform="translate(346.9,409) rotate(-90)" text-anchor="end">5,517</text>
<text transform="translate(352.9,409) rotate(-90)" text-anchor="end">5,632</text>
<text transform="translate(358.9,409) rotate(-90)" text-anchor="end">5,747</text>
<text transform="translate(364.9,409) rotate(-90)" text-anchor="end">5,862</text>
<text transform="translate(370.9,409) rotate(-90)" text-anchor="end">5,977</text>
<text transform="translate(376.9,409) rotate(-90)" text-anchor="end">6,092</text>
<text transform="translate(382.9,409) rotate(-90)" text-anchor="end">6,206</text>
<text transform="translate(388.9,409) rotate(-90)" text-anchor="end">6,321</text>
<text transform="translate(394.9,409) rotate(-90)" text-anchor="end">6,436</text>
<text transform="translate(400.9,409) rotate(-90)" text-anchor="end">6,551</text>
<text transform="translate(406.9,409) rotate(-90)" text-anchor="end">6,666</text>
<text transform="translate(412.9,409) rotate(-90)" text-anchor="end">6,781</text>
<text transform="translate(418.9,409) rotate(-90)" text-anchor="end">6,896</text>
<text transform="translate(424.9,409) rotate(-90)" text-anchor="end">7,011</text>
<text transform="translate(430.9,409) rotate(-90)" text-anchor="end">7,126</text>
<text transform="translate(436.9,409) rotate(-90)" text-anchor="end">7,241</text>
<text transform="translate(442.9,409) rotate(-90)" text-anchor="end">7,356</text>
<text transform="translate(448.9,409) rotate(-90)" text-anchor="end">7,471</text>
<text transform="translate(454.9,409) rotate(-90)" text-anchor="end">7,586</text>
<text transform="translate(460.9,409) rotate(-90)" text-anchor="end">7,701</text>
<text transform="translate(466.9,409) rotate(-90)" text-anchor="end">7,816</text>
<text transform="translate(472.9,409) rotate(-90)" text-anchor="end">7,931</text>
<text transform="translate(478.9,409) rotate(-90)" text-anchor="end">8,045</text>
<text transform="translate(484.9,409) rotate(-90)" text-anchor="end">8,160</text>
<text transform="translate(490.9,409) rotate(-90)" text-anchor="end">8,275</text>
<text transform="translate(496.9,409) rotate(-90)" text-anchor="end">8,390</text>
<text transform="translate(502.9,409) rotate(-90)" text-anchor="end">8,505</text>
<text transform="translate(508.9,409) rotate(-90)" text-anchor="end">8,620</text>
<text transform="translate(514.9,409) rotate(-90)" text-anchor="end">8,735</text>
<text transform="translate(520.9,409) rotate(-90)" text-anchor="end">8,850</text>
<text transform="translate(526.9,409) rotate(-90)" text-anchor="end">8,965</text>
<text transform="translate(532.9,409) rotate(-90)" text-anchor="end">9,080</text>
<text transform="translate(538.9,409) rotate(-90)" text-anchor="end">9,195</text>
<text transform="translate(544.9,409) rotate(-90)" text-anchor="end">9,310</text>
<text transform="translate(550.9,409) rotate(-90)" text-anchor="end">9,425</text>
<text transform="translate(556.9,409) rotate(-90)" text-anchor="end">9,540</text>
<text transform="translate(562.9,409) rotate(-90)" text-anchor="end">9,655</text>
<text transform="translate(568.9,409) rotate(-90)" text-anchor="end">9,769</text>
<text transform="translate(574.9,409) rotate(-90)" text-anchor="end">9,884</text>
<text transform="translate(580.9,409) rotate(-90)" text-anchor="end">9,999</text>
<text transform="translate(586.9,409) rotate(-90)" text-anchor="end">10,114</text>
<text transform="translate(592.9,409) rotate(-90)" text-anchor="end">10,229</text>
<text transform="translate(598.9,409) rotate(-90)" text-anchor="end">10,344</text>
<text transform="translate(604.9,409) rotate(-90)" text-anchor="end">10,459</text>
<text transform="translate(610.9,409) rotate(-90)" text-anchor="end">10,574</text>
<text transform="translate(616.9,409) rotate(-90)" text-anchor="end">10,689</text>
  </g>
  <line x1="318.7" y1="430.5" x2="328.7" y2="430.5" stroke="#7fadd8" stroke-width="0.9"/>
  <text x="330" y="432" font-size="4.6" fill="#595959">sum</text>

  <!-- right panel -->
  <rect x="792" y="218" width="386" height="232" rx="16" ry="16" fill="#fff"/>
  <rect x="805.5" y="233.5" width="359" height="201" fill="#fff" stroke="#e6e6e6" stroke-width="1"/>
  <g stroke="#f1f1f1" stroke-width="0.6">
<line x1="865.7" y1="246.0" x2="865.7" y2="381.0" stroke="#f5f5f5"/>
<line x1="876.3" y1="246.0" x2="876.3" y2="381.0" stroke="#f5f5f5"/>
<line x1="883.8" y1="246.0" x2="883.8" y2="381.0" stroke="#f5f5f5"/>
<line x1="889.6" y1="246.0" x2="889.6" y2="381.0" stroke="#f5f5f5"/>
<line x1="894.3" y1="246.0" x2="894.3" y2="381.0" stroke="#f5f5f5"/>
<line x1="898.3" y1="246.0" x2="898.3" y2="381.0" stroke="#f5f5f5"/>
<line x1="901.8" y1="246.0" x2="901.8" y2="381.0" stroke="#f5f5f5"/>
<line x1="904.9" y1="246.0" x2="904.9" y2="381.0" stroke="#f5f5f5"/>
<line x1="925.6" y1="246.0" x2="925.6" y2="381.0" stroke="#f5f5f5"/>
<line x1="936.2" y1="246.0" x2="936.2" y2="381.0" stroke="#f5f5f5"/>
<line x1="943.7" y1="246.0" x2="943.7" y2="381.0" stroke="#f5f5f5"/>
<line x1="949.5" y1="246.0" x2="949.5" y2="381.0" stroke="#f5f5f5"/>
<line x1="954.2" y1="246.0" x2="954.2" y2="381.0" stroke="#f5f5f5"/>
<line x1="958.2" y1="246.0" x2="958.2" y2="381.0" stroke="#f5f5f5"/>
<line x1="961.7" y1="246.0" x2="961.7" y2="381.0" stroke="#f5f5f5"/>
<line x1="964.8" y1="246.0" x2="964.8" y2="381.0" stroke="#f5f5f5"/>
<line x1="985.5" y1="246.0" x2="985.5" y2="381.0" stroke="#f5f5f5"/>
<line x1="996.1" y1="246.0" x2="996.1" y2="381.0" stroke="#f5f5f5"/>
<line x1="1003.6" y1="246.0" x2="1003.6" y2="381.0" stroke="#f5f5f5"/>
<line x1="1009.4" y1="246.0" x2="1009.4" y2="381.0" stroke="#f5f5f5"/>
<line x1="1014.1" y1="246.0" x2="1014.1" y2="381.0" stroke="#f5f5f5"/>
<line x1="1018.1" y1="246.0" x2="1018.1" y2="381.0" stroke="#f5f5f5"/>
<line x1="1021.6" y1="246.0" x2="1021.6" y2="381.0" stroke="#f5f5f5"/>
<line x1="1024.7" y1="246.0" x2="1024.7" y2="381.0" stroke="#f5f5f5"/>
<line x1="1045.4" y1="246.0" x2="1045.4" y2="381.0" stroke="#f5f5f5"/>
<line x1="1056.0" y1="246.0" x2="1056.0" y2="381.0" stroke="#f5f5f5"/>
<line x1="1063.5" y1="246.0" x2="1063.5" y2="381.0" stroke="#f5f5f5"/>
<line x1="1069.3" y1="246.0" x2="1069.3" y2="381.0" stroke="#f5f5f5"/>
<line x1="1074.0" y1="246.0" x2="1074.0" y2="381.0" stroke="#f5f5f5"/>
<line x1="1078.0" y1="246.0" x2="1078.0" y2="381.0" stroke="#f5f5f5"/>
<line x1="1081.5" y1="246.0" x2="1081.5" y2="381.0" stroke="#f5f5f5"/>
<line x1="1084.6" y1="246.0" x2="1084.6" y2="381.0" stroke="#f5f5f5"/>
<line x1="1105.3" y1="246.0" x2="1105.3" y2="381.0" stroke="#f5f5f5"/>
<line x1="1115.9" y1="246.0" x2="1115.9" y2="381.0" stroke="#f5f5f5"/>
<line x1="1123.4" y1="246.0" x2="1123.4" y2="381.0" stroke="#f5f5f5"/>
<line x1="1129.2" y1="246.0" x2="1129.2" y2="381.0" stroke="#f5f5f5"/>
<line x1="1133.9" y1="246.0" x2="1133.9" y2="381.0" stroke="#f5f5f5"/>
<line x1="1137.9" y1="246.0" x2="1137.9" y2="381.0" stroke="#f5f5f5"/>
<line x1="1141.4" y1="246.0" x2="1141.4" y2="381.0" stroke="#f5f5f5"/>
<line x1="1144.5" y1="246.0" x2="1144.5" y2="381.0" stroke="#f5f5f5"/>
<line x1="847.7" y1="370.8" x2="1147.2" y2="370.8"/>
<line x1="847.7" y1="364.9" x2="1147.2" y2="364.9"/>
<line x1="847.7" y1="360.7" x2="1147.2" y2="360.7"/>
<line x1="847.7" y1="357.4" x2="1147.2" y2="357.4"/>
<line x1="847.7" y1="354.7" x2="1147.2" y2="354.7"/>
<line x1="847.7" y1="352.5" x2="1147.2" y2="352.5"/>
<line x1="847.7" y1="350.5" x2="1147.2" y2="350.5"/>
<line x1="847.7" y1="348.8" x2="1147.2" y2="348.8"/>
<line x1="847.7" y1="337.1" x2="1147.2" y2="337.1"/>
<line x1="847.7" y1="331.1" x2="1147.2" y2="331.1"/>
<line x1="847.7" y1="326.9" x2="1147.2" y2="326.9"/>
<line x1="847.7" y1="323.7" x2="1147.2" y2="323.7"/>
<line x1="847.7" y1="321.0" x2="1147.2" y2="321.0"/>
<line x1="847.7" y1="318.7" x2="1147.2" y2="318.7"/>
<line x1="847.7" y1="316.8" x2="1147.2" y2="316.8"/>
<line x1="847.7" y1="315.0" x2="1147.2" y2="315.0"/>
<line x1="847.7" y1="303.3" x2="1147.2" y2="303.3"/>
<line x1="847.7" y1="297.4" x2="1147.2" y2="297.4"/>
<line x1="847.7" y1="293.2" x2="1147.2" y2="293.2"/>
<line x1="847.7" y1="289.9" x2="1147.2" y2="289.9"/>
<line x1="847.7" y1="287.2" x2="1147.2" y2="287.2"/>
<line x1="847.7" y1="285.0" x2="1147.2" y2="285.0"/>
<line x1="847.7" y1="283.0" x2="1147.2" y2="283.0"/>
<line x1="847.7" y1="281.3" x2="1147.2" y2="281.3"/>
<line x1="847.7" y1="269.6" x2="1147.2" y2="269.6"/>
<line x1="847.7" y1="263.6" x2="1147.2" y2="263.6"/>
<line x1="847.7" y1="259.4" x2="1147.2" y2="259.4"/>
<line x1="847.7" y1="256.2" x2="1147.2" y2="256.2"/>
<line x1="847.7" y1="253.5" x2="1147.2" y2="253.5"/>
<line x1="847.7" y1="251.2" x2="1147.2" y2="251.2"/>
<line x1="847.7" y1="249.3" x2="1147.2" y2="249.3"/>
<line x1="847.7" y1="247.5" x2="1147.2" y2="247.5"/>
  </g>
  <g stroke="#d9d9d9" stroke-width="0.9">
<line x1="847.7" y1="246.0" x2="847.7" y2="381.0"/>
<line x1="907.6" y1="246.0" x2="907.6" y2="381.0"/>
<line x1="967.5" y1="246.0" x2="967.5" y2="381.0"/>
<line x1="1027.4" y1="246.0" x2="1027.4" y2="381.0"/>
<line x1="1087.3" y1="246.0" x2="1087.3" y2="381.0"/>
<line x1="1147.2" y1="246.0" x2="1147.2" y2="381.0"/>
<line x1="847.7" y1="381.0" x2="1147.2" y2="381.0"/>
<line x1="847.7" y1="347.2" x2="1147.2" y2="347.2"/>
<line x1="847.7" y1="313.5" x2="1147.2" y2="313.5"/>
<line x1="847.7" y1="279.8" x2="1147.2" y2="279.8"/>
<line x1="847.7" y1="246.0" x2="1147.2" y2="246.0"/>
  </g>
  <g font-size="9.2" fill="#595959">
<text x="847.7" y="395.5" text-anchor="middle">0.1</text>
<text x="907.6" y="395.5" text-anchor="middle">1</text>
<text x="967.5" y="395.5" text-anchor="middle">10</text>
<text x="1027.4" y="395.5" text-anchor="middle">100</text>
<text x="1087.3" y="395.5" text-anchor="middle">1000</text>
<text x="1147.2" y="395.5" text-anchor="middle">10000</text>
  </g>
  <g font-size="9.6" fill="#595959" font-family="Liberation Serif, serif">
<text x="839" y="384.2" text-anchor="end">1</text>
<text x="839" y="350.4" text-anchor="end">10</text>
<text x="839" y="316.7" text-anchor="end">100</text>
<text x="839" y="282.9" text-anchor="end">1000</text>
<text x="839" y="249.2" text-anchor="end">10000</text>
  </g>
  <text transform="translate(817.6,312.7) rotate(-90)" font-size="9.2" font-weight="bold" fill="#4a4a4a" text-anchor="middle" textLength="36" lengthAdjust="spacingAndGlyphs">MTIE, ns</text>
  <text x="997.5" y="407" font-size="10" fill="#595959" text-anchor="middle">Observation interval, s</text>
  <svg x="847.7" y="246" width="299.5" height="135" viewBox="847.7 246 299.5 135" overflow="hidden">
    <polyline points="847.7,375.1 1076.8,246.0" fill="none" stroke="#ed7d31" stroke-width="1.3" stroke-dasharray="11,4.5,1.5,4.5"/>
    <polyline points="1027.4,289.9 1105.3,246.0" fill="none" stroke="#ffc000" stroke-width="1.3" stroke-dasharray="11,4.5,1.5,4.5"/>
    <polyline points="914.4,303.3 931.4,297.4 967.5,296.9 996.1,296.4 1014.1,295.3 1021.6,293.7 1027.4,292.1 1045.4,288.2 1055.1,286.3 1147.2,286.3" fill="none" stroke="#4472c4" stroke-width="1.5" stroke-dasharray="5,3"/>
    <polyline points="865.7,381.0 1020.3,293.9 1024.7,292.6 1027.4,291.8 1045.4,288.0 1055.1,286.3 1147.2,286.3" fill="none" stroke="#111" stroke-width="1.7"/>
  </svg>
  <!-- legend -->
  <line x1="878" y1="417.5" x2="906" y2="417.5" stroke="#ed7d31" stroke-width="1.2" stroke-dasharray="11,4.5,1.5,4.5"/>
  <text x="907.2" y="420.3" font-size="7.9" fill="#595959" textLength="45" lengthAdjust="spacingAndGlyphs">Limit 15 ppb</text>
  <line x1="1004" y1="417.5" x2="1032" y2="417.5" stroke="#ffc000" stroke-width="1.2" stroke-dasharray="11,4.5,1.5,4.5"/>
  <text x="1033.6" y="420.3" font-size="7.9" fill="#595959" textLength="39.5" lengthAdjust="spacingAndGlyphs">Limit 5 ppb</text>
  <line x1="878" y1="428.3" x2="906" y2="428.3" stroke="#4472c4" stroke-width="1.2" stroke-dasharray="5,3"/>
  <text x="907" y="431.1" font-size="7.9" fill="#595959" textLength="53" lengthAdjust="spacingAndGlyphs">G.8271.1 Mask</text>
  <line x1="1004" y1="428.3" x2="1033" y2="428.3" stroke="#111" stroke-width="1.3"/>
  <text x="1033.6" y="431.1" font-size="7.9" fill="#595959" textLength="91" lengthAdjust="spacingAndGlyphs">O-DU Output Limit Class B</text>

  <!-- circle -->
  <circle cx="663" cy="151" r="38.3" fill="#fff"/>
  <text x="662.6" y="146.6" font-size="16.8" fill="#3a4048" text-anchor="middle" textLength="63.6" lengthAdjust="spacingAndGlyphs">G.8271.1</text>
  <text x="663.2" y="166.6" font-size="16.8" fill="#3a4048" text-anchor="middle" textLength="59.6" lengthAdjust="spacingAndGlyphs">point C</text>

  <!-- dashed verticals -->
  <g stroke="#3b4048" stroke-width="2" stroke-dasharray="8.5,6.25">
    <line x1="663.6" y1="189.5" x2="663.6" y2="504"/>
    <line x1="756.8" y1="189.5" x2="756.8" y2="504"/>
  </g>

  <!-- arrows -->
  <g stroke="#333a44" stroke-width="2" fill="#333a44">
    <line x1="631.5" y1="337.7" x2="655" y2="337.7"/>
    <path d="M661,337.7 L653,333.2 L653,342.2 Z" stroke="none"/>
    <line x1="758" y1="337.7" x2="781" y2="337.7"/>
    <path d="M788,337.7 L780,333.2 L780,342.2 Z" stroke="none"/>
  </g>

  <!-- O-DU box -->
  <rect x="662.2" y="288" width="95" height="93" rx="13" ry="13" fill="#35318a"/>
  <text x="710" y="340.7" font-size="22" font-weight="bold" fill="#fff" text-anchor="middle" textLength="59" lengthAdjust="spacingAndGlyphs">O-DU</text>

  <!-- orange dashed arrows -->
  <g stroke="#e97a45" stroke-width="2" fill="none" stroke-dasharray="9.3,5.42">
    <line x1="709.8" y1="384.5" x2="709.8" y2="566.4"/>
    <line x1="815.8" y1="450" x2="815.8" y2="566.4" stroke-dashoffset="4"/>
  </g>
  <g stroke="#e8743b" stroke-width="2" fill="none" stroke-dasharray="8.5,6.5">
    <line x1="790.4" y1="377.4" x2="775.9" y2="359.5"/>
  </g>
  <g fill="#e8743b">
    <path d="M709.8,383.2 L705,391.2 L714.6,391.2 Z"/>
    <path d="M765.8,345.4 L774.3,348.8 L767.3,354.4 Z"/>
  </g>

  <!-- orange labels -->
  <g font-size="17.6" fill="#db6f3f" stroke="#db6f3f" stroke-width="0.25">
    <text x="733" y="593" text-anchor="end" textLength="119" lengthAdjust="spacingAndGlyphs">Sub-millihertz</text>
    <text x="733" y="613" text-anchor="end" textLength="120.5" lengthAdjust="spacingAndGlyphs">low-pass filter</text>
    <text x="799.5" y="593" textLength="61" lengthAdjust="spacingAndGlyphs">&lt; 5ppb</text>
    <text x="799" y="613" textLength="130" lengthAdjust="spacingAndGlyphs">frequency error</text>
  </g>
</svg>
</body></html>
